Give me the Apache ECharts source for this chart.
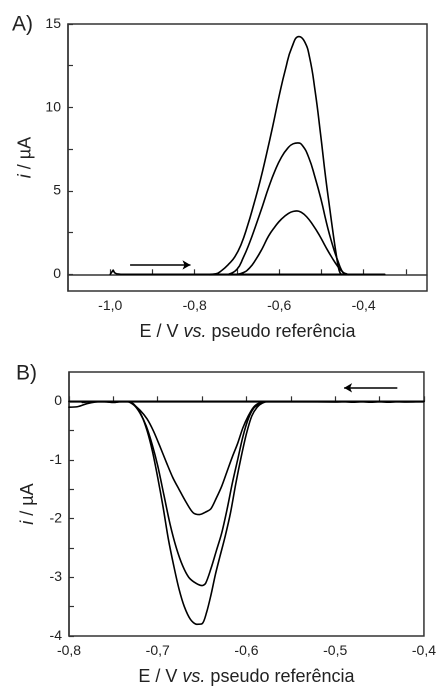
<!DOCTYPE html>
<html>
<head>
<meta charset="utf-8">
<script src="https://cdn.jsdelivr.net/npm/echarts@6/dist/echarts.min.js"></script>
<style>
html,body{margin:0;padding:0;background:#fff;}
#c{width:439px;height:687px;}
</style>
</head>
<body>
<div id="c"></div>
<script>
// ---------- Panel A data (E / V, i / µA) ----------
var baseA = [[-1.0,0],[-0.996,0.04],[-0.993,0.25],[-0.990,0.1],[-0.985,0.03],[-0.975,0],[-0.35,0]];
var peakA1 = [[-0.765,0],[-0.75,0.03],[-0.735,0.25],[-0.72,0.6],[-0.705,1.05],[-0.69,1.8],[-0.675,2.9],[-0.66,4.2],
  [-0.645,5.6],[-0.63,7.2],[-0.615,8.9],[-0.60,10.7],[-0.585,12.3],[-0.57,13.6],[-0.553,14.25],[-0.54,13.95],
  [-0.528,13.0],[-0.515,11.0],[-0.502,8.4],[-0.49,5.8],[-0.48,3.9],[-0.472,2.4],[-0.465,1.2],[-0.46,0.45],[-0.456,0.1],[-0.452,0]];
var peakA2 = [[-0.72,0],[-0.70,0.3],[-0.685,1.0],[-0.67,1.9],[-0.655,2.95],[-0.64,4.05],[-0.625,5.2],[-0.61,6.2],
  [-0.595,7.0],[-0.58,7.55],[-0.567,7.82],[-0.556,7.87],[-0.545,7.72],[-0.53,7.0],[-0.515,5.8],[-0.50,4.4],[-0.49,3.3],
  [-0.481,2.4],[-0.47,1.45],[-0.461,0.8],[-0.453,0.28],[-0.446,0.03],[-0.442,0]];
var peakA3 = [[-0.70,0],[-0.685,0.1],[-0.67,0.38],[-0.655,0.9],[-0.64,1.55],[-0.625,2.3],[-0.61,2.85],[-0.595,3.3],
  [-0.578,3.65],[-0.565,3.78],[-0.558,3.8],[-0.548,3.72],[-0.535,3.45],[-0.52,2.95],[-0.505,2.35],[-0.49,1.65],
  [-0.475,1.0],[-0.462,0.5],[-0.45,0.15],[-0.44,0.02],[-0.435,0]];
var arrowA = [[-0.953,0.56],[-0.81,0.56]];
var xLabelsA = [-1.0,-0.8,-0.6,-0.4];
var xTicksA = [-1.0,-0.9,-0.8,-0.7,-0.6,-0.5,-0.4,-0.3];
var yLabelsA = [0,5,10,15];
var yTicksA = [0,2.5,5,7.5,10,12.5,15];

// ---------- Panel B data ----------
var zeroB = [[-0.8,0],[-0.4,0]];
var curveB1 = [[-0.785,-0.02],[-0.77,0],[-0.755,-0.01],[-0.745,0],[-0.735,0],[-0.728,-0.05],[-0.72,-0.15],[-0.712,-0.3],[-0.705,-0.5],
  [-0.698,-0.75],[-0.69,-1.05],[-0.683,-1.3],[-0.676,-1.5],[-0.668,-1.72],[-0.66,-1.9],[-0.653,-1.93],[-0.645,-1.88],
  [-0.64,-1.83],[-0.634,-1.65],[-0.628,-1.45],[-0.622,-1.2],[-0.616,-0.95],[-0.61,-0.72],[-0.604,-0.45],[-0.598,-0.25],
  [-0.592,-0.1],[-0.586,-0.03],[-0.58,0],[-0.55,0],[-0.50,-0.01],[-0.49,-0.005],[-0.48,-0.015],[-0.47,-0.005],[-0.46,-0.015],
  [-0.45,-0.005],[-0.44,-0.015],[-0.43,-0.005],[-0.42,-0.01],[-0.40,0]];
var curveB2 = [[-0.76,0],[-0.75,-0.02],[-0.74,0],[-0.735,0],[-0.727,-0.06],[-0.72,-0.2],[-0.713,-0.42],[-0.706,-0.75],[-0.70,-1.1],
  [-0.693,-1.6],[-0.686,-2.1],[-0.679,-2.5],[-0.672,-2.8],[-0.665,-3.0],[-0.657,-3.1],[-0.65,-3.14],[-0.646,-3.1],
  [-0.64,-2.85],[-0.634,-2.55],[-0.628,-2.25],[-0.622,-1.85],[-0.616,-1.4],[-0.61,-1.0],[-0.604,-0.6],[-0.598,-0.3],
  [-0.592,-0.12],[-0.585,-0.04],[-0.578,0],[-0.40,0]];
var curveB3 = [[-0.80,-0.10],[-0.79,-0.09],[-0.78,-0.04],[-0.77,-0.01],[-0.76,0],[-0.75,-0.015],[-0.74,0],[-0.733,0],
  [-0.725,-0.08],[-0.718,-0.25],[-0.712,-0.5],[-0.706,-0.85],[-0.70,-1.3],[-0.694,-1.8],[-0.688,-2.35],[-0.682,-2.8],
  [-0.676,-3.2],[-0.67,-3.5],[-0.663,-3.72],[-0.656,-3.8],[-0.65,-3.79],[-0.645,-3.6],[-0.64,-3.3],[-0.635,-2.95],
  [-0.63,-2.65],[-0.624,-2.3],[-0.618,-1.9],[-0.612,-1.4],[-0.606,-0.95],[-0.60,-0.55],[-0.594,-0.25],[-0.588,-0.1],
  [-0.582,-0.03],[-0.575,0],[-0.40,0]];
var arrowB = [[-0.43,0.23],[-0.49,0.23]];
var xLabelsB = [-0.8,-0.7,-0.6,-0.5,-0.4];
var xTicksB = [-0.8,-0.75,-0.7,-0.65,-0.6,-0.55,-0.5,-0.45,-0.4];
var yLabelsB = [-4,-3,-2,-1,0];
var yTicksB = [-4,-3.5,-3,-2.5,-2,-1.5,-1,-0.5,0];

var FONT = 'Liberation Sans, Arial, sans-serif';
var TXT = '#222';
var AX = '#333';

function fmt1(v){ return v.toFixed(1).replace('.', ','); }
function fmt0(v){ return String(Math.round(v)); }

function xAx(idx, min, max, labels, ticks, f){
  return {
    type:'value', gridIndex:idx, min:min, max:max,
    name:'{n|E / V }{i|vs.}{n| pseudo referência}', nameLocation:'middle', nameGap:32,
    nameTextStyle:{rich:{n:{fontFamily:FONT,fontSize:18,color:TXT},i:{fontFamily:FONT,fontSize:18,color:TXT,fontStyle:'italic'}}},
    axisLine:{show:true,lineStyle:{color:AX,width:1.5}},
    axisTick:{show:true,inside:true,length:5,customValues:ticks,lineStyle:{color:AX,width:1.2}},
    axisLabel:{customValues:labels,formatter:f,fontFamily:FONT,fontSize:14,color:TXT,margin:8},
    splitLine:{show:false}
  };
}
function yAx(idx, min, max, labels, ticks, f){
  return {
    type:'value', gridIndex:idx, min:min, max:max,
    name:'{i|i}{n| / µA}', nameLocation:'middle', nameGap:32,
    nameTextStyle:{rich:{n:{fontFamily:FONT,fontSize:18,color:TXT},i:{fontFamily:FONT,fontSize:18,color:TXT,fontStyle:'italic'}}},
    axisLine:{show:true,lineStyle:{color:AX,width:1.5}},
    axisTick:{show:true,inside:true,length:5,customValues:ticks,lineStyle:{color:AX,width:1.2}},
    axisLabel:{customValues:labels,formatter:f,fontFamily:FONT,fontSize:14,color:TXT,margin:7},
    splitLine:{show:false}
  };
}
function line(data, xi, yi, smooth){
  return {type:'line', xAxisIndex:xi, yAxisIndex:yi, data:data, showSymbol:false, symbol:'none',
    smooth:smooth, lineStyle:{color:'#000',width:1.6,join:'round',cap:'round'}, animation:false, silent:true, z:3};
}
function arrow(pts, xi, yi){
  return {type:'line', xAxisIndex:xi, yAxisIndex:yi, data:[], animation:false, silent:true,
    markLine:{silent:true, animation:false, symbol:['none','arrow'], symbolSize:[7,8], label:{show:false},
      lineStyle:{color:'#000',width:1.5,type:'solid'},
      data:[[{coord:pts[0]},{coord:pts[1]}]]}};
}

var chart = echarts.init(document.getElementById('c'), null, {renderer:'canvas', devicePixelRatio:2});
chart.setOption({
  backgroundColor:'#fff',
  animation:false,
  graphic:[
    {type:'text', left:12, top:14, style:{text:'A)', font:'21px '+FONT, fill:TXT}},
    {type:'text', left:16, top:363, style:{text:'B)', font:'21px '+FONT, fill:TXT}}
  ],
  grid:[
    {left:68, top:24, width:359, height:267, show:true, borderColor:AX, borderWidth:1.5},
    {left:69, top:372, width:358, height:266, show:true, borderColor:AX, borderWidth:1.5}
  ],
  xAxis:[
    xAx(0, -1.1, -0.25, xLabelsA, xTicksA, fmt1),
    xAx(1, -0.8, -0.4, xLabelsB, xTicksB, fmt1)
  ],
  yAxis:[
    yAx(0, -1, 15, yLabelsA, yTicksA, fmt0),
    yAx(1, -4, 0.5, yLabelsB, yTicksB, fmt0)
  ],
  series:[
    line(baseA,0,0,false),
    line(peakA1,0,0,0.5),
    line(peakA2,0,0,0.5),
    line(peakA3,0,0,0.5),
    arrow(arrowA,0,0),
    line(zeroB,1,1,false),
    line(curveB1,1,1,0.3),
    line(curveB2,1,1,0.3),
    line(curveB3,1,1,0.3),
    arrow(arrowB,1,1)
  ]
});
</script>
</body>
</html>
